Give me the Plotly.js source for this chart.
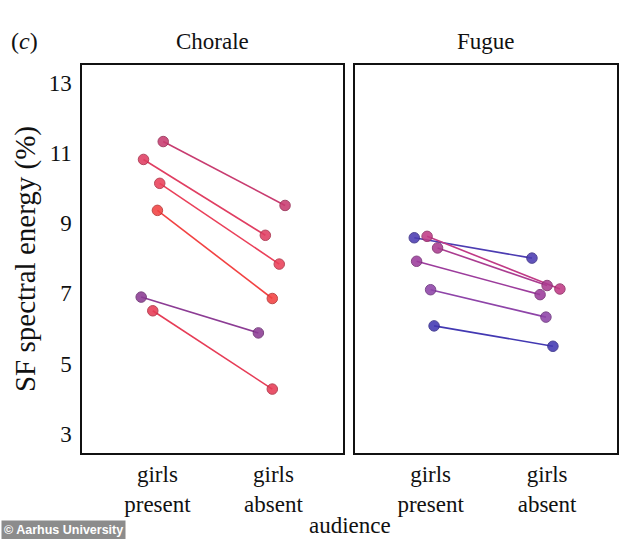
<!DOCTYPE html>
<html>
<head>
<meta charset="utf-8">
<script src="https://cdn.plot.ly/plotly-3.0.1.min.js"></script>
<style>html,body{margin:0;padding:0;background:#fff;}#chart{width:634px;height:539px;}</style>
</head>
<body>
<div id="chart"></div>
<script>
// Categories and tick labels
const categories = [1, 2];
const tickLabels = ["girls<br>present", "girls<br>absent"];
const yTicks = [3, 5, 7, 9, 11, 13];

// Chorale panel: SF spectral energy (%) per participant
const choralePresent = [11.32, 10.81, 10.13, 9.36, 6.89, 6.50];
const choraleAbsent  = [9.50, 8.65, 7.83, 6.85, 5.87, 4.27];
const choraleJitterPresent = [1.05, 0.88, 1.02, 1.00, 0.86, 0.96];
const choraleJitterAbsent  = [2.10, 1.93, 2.05, 1.99, 1.87, 1.99];
const choraleColors = ["#c83c70", "#e03e62", "#ea405a", "#f24242", "#8c3c94", "#e63c56"];

// Fugue panel
const fuguePresent = [8.58, 8.62, 8.29, 7.91, 7.10, 6.07];
const fugueAbsent  = [8.00, 7.12, 7.22, 6.96, 6.32, 5.49];
const fugueJitterPresent = [0.86, 0.97, 1.06, 0.88, 1.00, 1.03];
const fugueJitterAbsent  = [1.87, 2.11, 2.00, 1.94, 1.99, 2.05];
const fugueColors = ["#4c3cb2", "#c03a86", "#aa3c90", "#9c3c9c", "#8e44a8", "#4238b2"];

const serif = "Liberation Serif, Times New Roman, serif";

function darker(hex) {
  const n = parseInt(hex.slice(1), 16);
  const r = Math.round(((n >> 16) & 255) * 0.75);
  const g = Math.round(((n >> 8) & 255) * 0.75);
  const b = Math.round((n & 255) * 0.75);
  return "rgb(" + r + "," + g + "," + b + ")";
}

const traces = [];
function addPanel(pres, abs, jp, ja, colors, xa, ya) {
  for (let i = 0; i < pres.length; i++) {
    traces.push({
      type: "scatter", mode: "lines+markers",
      x: [jp[i], ja[i]], y: [pres[i], abs[i]],
      xaxis: xa, yaxis: ya,
      line: {color: colors[i], width: 1.6},
      marker: {size: 10.5, color: colors[i], opacity: 0.88, line: {color: darker(colors[i]), width: 1}},
      showlegend: false, hoverinfo: "x+y"
    });
  }
}
addPanel(choralePresent, choraleAbsent, choraleJitterPresent, choraleJitterAbsent, choraleColors, "x", "y");
addPanel(fuguePresent, fugueAbsent, fugueJitterPresent, fugueJitterAbsent, fugueColors, "x2", "y2");

const xCommon = {
  range: [0.35, 2.6], tickvals: categories, ticktext: tickLabels,
  showgrid: false, zeroline: false, ticks: "",
  showline: true, mirror: true, linecolor: "#111", linewidth: 1.6,
  tickfont: {family: serif, size: 23, color: "#111"}
};
const yCommon = {
  range: [2.45, 13.5], tickvals: yTicks,
  showgrid: false, zeroline: false, ticks: "", ticklabelstandoff: 4,
  showline: true, mirror: true, linecolor: "#111", linewidth: 1.6,
  tickfont: {family: serif, size: 23, color: "#111"}
};

const layout = {
  width: 634, height: 539,
  margin: {l: 82, r: 17, t: 65, b: 86},
  paper_bgcolor: "#fff", plot_bgcolor: "#fff",
  xaxis: Object.assign({}, xCommon, {domain: [0, 0.488], anchor: "y"}),
  xaxis2: Object.assign({}, xCommon, {domain: [0.51, 1], anchor: "y2"}),
  yaxis: Object.assign({}, yCommon, {anchor: "x",
    title: {text: "SF spectral energy (%)", font: {family: serif, size: 29, color: "#111"}, standoff: 4}}),
  yaxis2: Object.assign({}, yCommon, {anchor: "x2", showticklabels: false}),
  annotations: [
    {text: "Chorale", xref: "paper", yref: "paper", x: 0.244, y: 1.023, xanchor: "center", yanchor: "bottom", showarrow: false,
     font: {family: serif, size: 23, color: "#111"}},
    {text: "Fugue", xref: "paper", yref: "paper", x: 0.755, y: 1.023, xanchor: "center", yanchor: "bottom", showarrow: false,
     font: {family: serif, size: 23, color: "#111"}},
    {text: "(<i>c</i>)", xref: "paper", yref: "paper", x: -0.107, y: 1.023, xanchor: "center", yanchor: "bottom", showarrow: false,
     font: {family: serif, size: 24, color: "#111"}},
    {text: "audience", xref: "paper", yref: "paper", x: 0.5, y: -0.186, xanchor: "center", yanchor: "middle", showarrow: false,
     font: {family: serif, size: 23, color: "#111"}},
    {text: "<b>© Aarhus University</b>", xref: "paper", yref: "paper", x: -0.151, y: -0.173, xanchor: "left", yanchor: "top",
     showarrow: false, bgcolor: "#8c8c8c", borderpad: 2,
     font: {family: "Liberation Sans, Arial, sans-serif", size: 12.5, color: "#fff"}}
  ]
};

Plotly.newPlot("chart", traces, layout, {displayModeBar: false, staticPlot: true});
</script>
</body>
</html>
